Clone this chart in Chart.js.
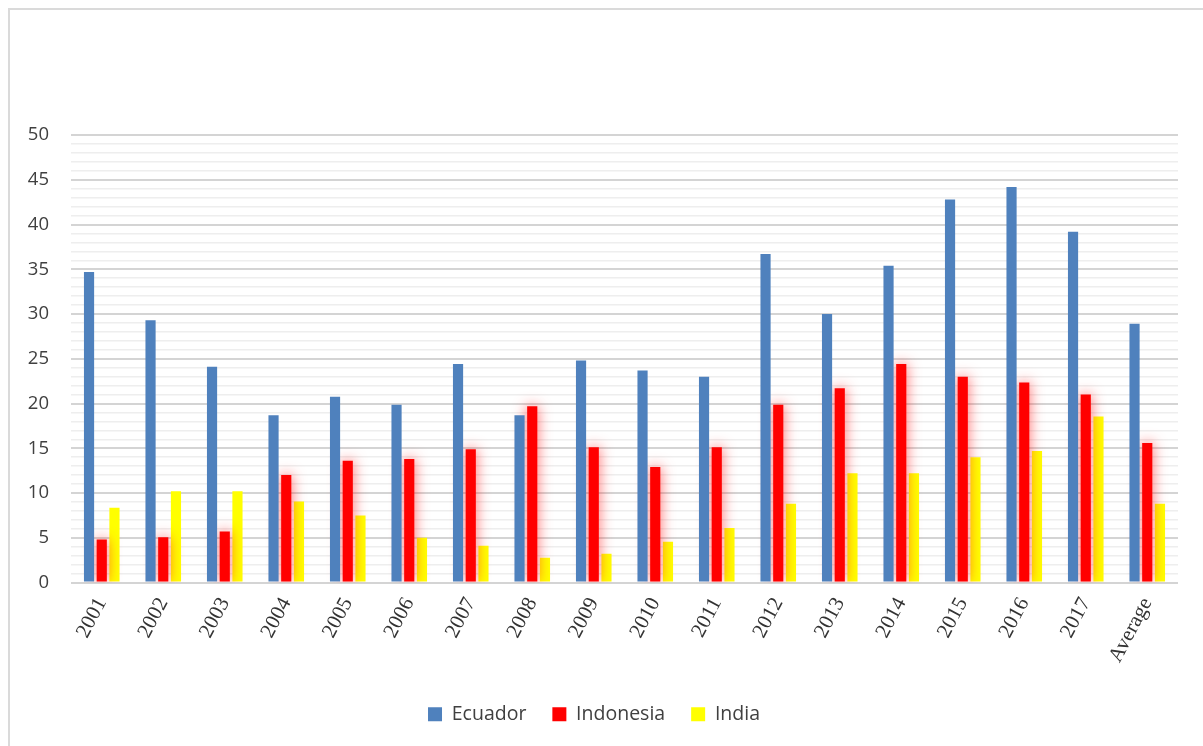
<!DOCTYPE html>
<html>
<head>
<meta charset="utf-8">
<script src="https://cdn.jsdelivr.net/npm/chart.js@4/dist/chart.umd.min.js"></script>
<style>
  html, body { margin: 0; padding: 0; background: #fff; }
  #wrap { position: relative; width: 1203px; height: 746px; overflow: hidden; }
  #frame { position: absolute; left: 8px; top: 8px; width: 1300px; height: 800px;
           border-top: 2px solid #dadada; border-left: 2px solid #dadada; box-sizing: border-box; }
  canvas { position: absolute; left: 0; top: 0; }
</style>
</head>
<body>
<div id="wrap">
  <div id="frame"></div>
  <canvas id="c" width="1203" height="746"></canvas>
</div>
<script>
const categories = ['2001','2002','2003','2004','2005','2006','2007','2008','2009','2010','2011','2012','2013','2014','2015','2016','2017','Average'];
const ecuador   = [34.7, 29.3, 24.1, 18.7, 20.75, 19.85, 24.4, 18.7, 24.8, 23.7, 23.0, 36.7, 30.0, 35.4, 42.8, 44.2, 39.2, 28.9];
const indonesia = [4.8, 5.06, 5.7, 12.0, 13.6, 13.8, 14.9, 19.7, 15.1, 12.9, 15.1, 19.85, 21.7, 24.4, 23.0, 22.35, 21.0, 15.6];
const india     = [8.35, 10.2, 10.2, 9.05, 7.5, 5.0, 4.1, 2.76, 3.2, 4.55, 6.1, 8.8, 12.2, 12.2, 14.0, 14.7, 18.55, 8.8];
const yTickLabels = [0, 5, 10, 15, 20, 25, 30, 35, 40, 45, 50];

const glow = {
  id: 'glow',
  beforeDatasetDraw(chart, args) {
    if (args.index === 1) {
      chart.ctx.save();
      chart.ctx.shadowColor = 'rgba(255,40,40,0.75)';
      chart.ctx.shadowBlur = 14;
    }
  },
  afterDatasetDraw(chart, args) {
    if (args.index === 1) chart.ctx.restore();
  }
};

new Chart(document.getElementById('c'), {
  type: 'bar',
  data: {
    labels: categories,
    datasets: [
      { label: 'Ecuador', data: ecuador, backgroundColor: '#4F81BD' },
      { label: 'Indonesia', data: indonesia, backgroundColor: '#FF0000' },
      { label: 'India', data: india, backgroundColor: '#FFFF00' }
    ]
  },
  options: {
    responsive: false,
    animation: false,
    devicePixelRatio: 1,
    datasets: { bar: { categoryPercentage: 0.62, barPercentage: 0.8 } },
    layout: { padding: { top: 135, left: 10, right: 25, bottom: 12 } },
    plugins: {
      tooltip: { enabled: false },
      legend: {
        position: 'bottom',
        labels: {
          boxWidth: 14, boxHeight: 14, padding: 26,
          color: '#404040',
          font: { family: '"Open Sans", "Noto Sans", sans-serif', size: 19.5 }
        }
      }
    },
    scales: {
      x: {
        grid: { display: false },
        border: { display: false },
        ticks: {
          minRotation: 62, maxRotation: 62, autoSkip: false,
          color: '#333',
          font: { family: '"Liberation Serif", "Times New Roman", serif', size: 21 }
        },
        afterFit(s) { s.height = 96; }
      },
      y: {
        min: 0, max: 50,
        border: { display: false },
        grid: {
          color: ctx => (ctx.tick && ctx.tick.value % 5 === 0) ? '#d4d4d4' : '#eeeeee',
          lineWidth: ctx => (ctx.tick && ctx.tick.value % 5 === 0) ? 2 : 1.5,
          drawTicks: false
        },
        ticks: {
          stepSize: 1, autoSkip: false, padding: 22,
          color: '#404040',
          font: { family: '"Open Sans", "Noto Sans", sans-serif', size: 18.5 },
          callback: v => yTickLabels.includes(v) ? String(v) : ''
        },
        afterFit(s) { s.width = 61; }
      }
    }
  },
  plugins: [glow]
});
</script>
</body>
</html>
